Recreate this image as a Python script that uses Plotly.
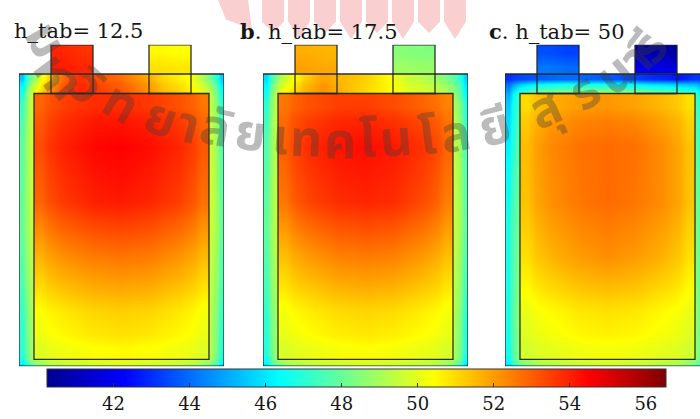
import plotly.graph_objects as go

# ---------------------------------------------------------------------------
# Cell geometry (drawing units; y measured upward from the casing bottom)
# ---------------------------------------------------------------------------
CELL_W, CELL_H = 205, 300          # casing
INNER = (15, 7, 190, 280)          # jelly-roll rectangle x0, y0, x1, y1
TAB_COLS = [(32, 74), (130, 172)]  # positive / negative tab columns
TAB_TOP = 330

PANEL_TITLES = ["h_tab= 12.5", "<b>b</b>. h_tab= 17.5", "<b>c</b>. h_tab= 50"]

# ---------------------------------------------------------------------------
# Temperature samples (deg C)
# ---------------------------------------------------------------------------
BODY_X = [0, 15, 30, 53, 102, 151, 175, 190, 205]
BODY_Y = [0, 7, 20, 150, 260, 280, 300]
INNER_X = [15, 45, 75, 102, 130, 160, 190]
INNER_Y = [7, 55, 110, 170, 226, 280]
TAB_Y = [300, 330]

body_a = [
    [45.8, 48.0, 49.0, 49.4, 49.7, 49.4, 49.0, 48.0, 45.8],
    [46.8, 49.2, 49.7, 50.0, 50.2, 50.0, 49.7, 49.2, 46.8],
    [47.2, 49.4, 50.0, 50.3, 50.5, 50.3, 50.0, 49.4, 47.2],
    [48.0, 49.8, 51.0, 51.0, 51.0, 51.0, 51.0, 49.8, 48.0],
    [47.8, 50.0, 52.0, 52.0, 52.0, 52.0, 52.0, 49.8, 47.6],
    [46.8, 50.3, 52.5, 54.0, 53.2, 51.5, 50.6, 49.5, 46.6],
    [45.5, 48.8, 51.5, 53.8, 52.7, 51.0, 50.2, 48.2, 45.6],
]
inner_a = [
    [49.9, 50.2, 50.4, 50.5, 50.4, 50.2, 49.9],
    [50.4, 50.8, 51.1, 51.2, 51.1, 50.8, 50.3],
    [51.6, 52.2, 52.5, 52.6, 52.5, 52.1, 51.5],
    [52.9, 53.6, 54.0, 54.1, 53.9, 53.5, 52.7],
    [53.3, 54.0, 54.4, 54.5, 54.3, 53.9, 53.1],
    [52.9, 53.5, 53.8, 53.8, 53.6, 53.2, 52.6],
]
tabs_a = [
    [[54.1, 53.9], [53.9, 53.7]],
    [[50.9, 50.8], [50.5, 50.4]],
]

body_b = [
    [45.8, 48.0, 49.0, 49.3, 49.6, 49.3, 49.0, 48.0, 45.8],
    [46.7, 49.1, 49.6, 49.9, 50.1, 49.9, 49.6, 49.1, 46.7],
    [47.1, 49.3, 50.0, 50.2, 50.4, 50.2, 50.0, 49.3, 47.1],
    [47.9, 49.7, 51.0, 51.0, 51.0, 51.0, 51.0, 49.7, 47.9],
    [47.6, 49.8, 51.5, 51.5, 51.5, 51.5, 51.5, 49.6, 47.5],
    [46.6, 49.9, 51.2, 52.3, 51.0, 50.0, 49.6, 48.8, 46.4],
    [45.8, 48.8, 50.5, 51.9, 51.2, 49.6, 48.8, 47.8, 45.7],
]
inner_b = [
    [49.8, 50.1, 50.3, 50.4, 50.3, 50.1, 49.8],
    [50.3, 50.7, 51.0, 51.1, 51.0, 50.7, 50.3],
    [51.4, 52.0, 52.4, 52.5, 52.4, 52.0, 51.4],
    [52.6, 53.4, 53.8, 53.9, 53.8, 53.3, 52.5],
    [53.0, 53.8, 54.2, 54.3, 54.1, 53.7, 52.9],
    [52.6, 53.2, 53.5, 53.5, 53.3, 52.9, 52.4],
]
tabs_b = [
    [[51.9, 51.8], [51.7, 51.6]],
    [[48.9, 48.8], [48.5, 48.4]],
]

body_c = [
    [45.8, 47.8, 48.8, 49.2, 49.5, 49.2, 48.8, 47.8, 45.8],
    [46.5, 48.7, 49.4, 49.8, 50.0, 49.8, 49.4, 48.7, 46.5],
    [46.8, 48.8, 49.8, 50.1, 50.3, 50.1, 49.8, 48.8, 46.8],
    [46.8, 48.4, 50.5, 50.5, 50.5, 50.5, 50.5, 48.4, 46.8],
    [46.0, 47.8, 50.0, 50.0, 50.0, 50.0, 50.0, 47.8, 46.0],
    [45.0, 47.5, 48.6, 49.0, 49.2, 48.6, 48.2, 47.3, 45.0],
    [43.0, 43.4, 43.7, 44.0, 43.8, 43.0, 42.6, 43.2, 43.0],
]
inner_c = [
    [49.7, 50.0, 50.2, 50.3, 50.2, 50.0, 49.7],
    [50.1, 50.5, 50.8, 50.9, 50.8, 50.5, 50.1],
    [50.9, 51.6, 52.0, 52.2, 52.0, 51.6, 50.9],
    [51.4, 52.2, 52.6, 52.8, 52.6, 52.2, 51.4],
    [51.5, 52.3, 52.7, 52.8, 52.7, 52.2, 51.4],
    [51.0, 51.7, 52.0, 52.1, 51.9, 51.5, 50.9],
]
tabs_c = [
    [[44.2, 44.0], [43.5, 43.3]],
    [[41.9, 41.8], [40.7, 40.6]],
]

PANELS = [
    (body_a, inner_a, tabs_a),
    (body_b, inner_b, tabs_b),
    (body_c, inner_c, tabs_c),
]

T_MIN, T_MAX = 40.25, 56.53
TICKS = [42, 44, 46, 48, 50, 52, 54, 56]

# MATLAB-style jet
JET = [
    [0.0, "rgb(0,0,143)"],
    [0.125, "rgb(0,0,255)"],
    [0.375, "rgb(0,255,255)"],
    [0.625, "rgb(255,255,0)"],
    [0.875, "rgb(255,0,0)"],
    [1.0, "rgb(128,0,0)"],
]

# ---------------------------------------------------------------------------
# Page layout (pixels)
# ---------------------------------------------------------------------------
W, H = 700, 419
PANEL_LEFT = [19, 263, 505]
PANEL_TOP, PANEL_BOTTOM = 46, 376
SERIF = "DejaVu Serif, Liberation Serif, serif"
LINE = dict(color="rgba(35,35,35,0.95)", width=1.3)


def edges(p):
    """Brick edges clamped to the sampled extent."""
    mids = [(a + b) / 2 for a, b in zip(p[:-1], p[1:])]
    return [p[0]] + mids + [p[-1]]


fig = go.Figure()
shapes = []
annotations = []

# University logo (faint, behind everything)
for k in range(8):
    x0 = 262 + k * 26
    xm, x1 = x0 + 11, x0 + 22
    tip = 40 if k % 2 else 34
    path = (f"M{x0/W},{1}L{x1/W},{1}L{x1/W},{1-22/H}"
            f"L{xm/W},{1-tip/H}L{x0/W},{1-22/H}Z")
    shapes.append(dict(type="path", xref="paper", yref="paper", path=path,
                       fillcolor="rgba(238,110,110,0.33)", line_width=0,
                       layer="below"))
shapes.append(dict(type="path", xref="paper", yref="paper", layer="below",
                   path=f"M{218/W},1L{248/W},1L{252/W},{1-30/H}L{226/W},{1-20/H}Z",
                   fillcolor="rgba(238,110,110,0.33)", line_width=0))

for i, (body, inner, tabs) in enumerate(PANELS):
    sfx = "" if i == 0 else str(i + 1)
    xa, ya = "x" + sfx, "y" + sfx

    fig.add_trace(go.Heatmap(
        x=edges(BODY_X), y=edges(BODY_Y), z=body,
        coloraxis="coloraxis", zsmooth="best", xaxis=xa, yaxis=ya,
        hoverinfo="skip"))
    fig.add_trace(go.Heatmap(
        x=edges(INNER_X), y=edges(INNER_Y), z=inner,
        coloraxis="coloraxis", zsmooth="best", xaxis=xa, yaxis=ya,
        hoverinfo="skip"))
    for (tx0, tx1), tz in zip(TAB_COLS, tabs):
        fig.add_trace(go.Heatmap(
            x=edges([tx0, tx1]), y=edges(TAB_Y), z=tz,
            coloraxis="coloraxis", zsmooth="best", xaxis=xa, yaxis=ya,
            hoverinfo="skip"))

    # outlines: casing, jelly roll, tabs
    shapes.append(dict(type="rect", xref=xa, yref=ya, x0=0, y0=0,
                       x1=CELL_W, y1=CELL_H, line=LINE))
    shapes.append(dict(type="rect", xref=xa, yref=ya, x0=INNER[0], y0=INNER[1],
                       x1=INNER[2], y1=INNER[3], line=LINE))
    for tx0, tx1 in TAB_COLS:
        shapes.append(dict(type="rect", xref=xa, yref=ya, x0=tx0, y0=INNER[3],
                           x1=tx1, y1=TAB_TOP, line=LINE))

    left = PANEL_LEFT[i]
    right = min(left + CELL_W, W)
    fig.layout["xaxis" + sfx] = dict(
        domain=[left / W, right / W], range=[0, right - left],
        visible=False, fixedrange=True, anchor=ya)
    fig.layout["yaxis" + sfx] = dict(
        domain=[(H - PANEL_BOTTOM) / H, (H - PANEL_TOP) / H],
        range=[0, TAB_TOP], visible=False, fixedrange=True, anchor=xa)

TITLE_X = [12, 238, 487]
for tx, title in zip(TITLE_X, PANEL_TITLES):
    annotations.append(dict(
        text=title, xref="paper", yref="paper", x=tx / W, y=1 - 32 / H,
        xanchor="left", yanchor="middle", showarrow=False,
        font=dict(family=SERIF, size=21, color="#161616")))

# University name watermark along an arc
WATERMARK = [
    ("ม", 44, 42, 60), ("ห", 52, 74, 54), ("า", 66, 88, 48),
    ("วิ", 86, 90, 42), ("ท", 120, 108, 30), ("ย", 160, 123, 20),
    ("า", 188, 130, 15), ("ลั", 216, 134, 11), ("ย", 250, 139, 7),
    ("เ", 280, 143, 4), ("ท", 306, 145, 2), ("ค", 340, 147, 0),
    ("โ", 368, 146, -2), ("น", 396, 145, -4), ("โ", 428, 143, -7),
    ("ล", 456, 140, -10), ("ยี", 496, 132, -15), ("สุ", 546, 114, -24),
    ("ร", 586, 96, -32), ("น", 616, 78, -40), ("า", 638, 62, -46),
    ("รี", 650, 50, -52),
]
for ch, px, py, ang in WATERMARK:
    annotations.append(dict(
        text=f"<b>{ch}</b>", xref="paper", yref="paper", x=px / W,
        y=1 - py / H, xanchor="center", yanchor="middle", showarrow=False,
        textangle=ang,
        font=dict(family="Noto Sans Thai, Noto Sans, sans-serif", size=50,
                  color="rgba(60,60,60,0.35)")))

fig.update_layout(
    width=W, height=H, margin=dict(l=0, r=0, t=0, b=0),
    paper_bgcolor="white", plot_bgcolor="rgba(0,0,0,0)",
    showlegend=False, shapes=shapes, annotations=annotations,
    coloraxis=dict(
        colorscale=JET, cmin=T_MIN, cmax=T_MAX,
        colorbar=dict(
            orientation="h", x=47 / W, xanchor="left",
            y=1 - 379 / H, yanchor="top",
            len=619, lenmode="pixels", thickness=18, thicknessmode="pixels",
            xpad=0, ypad=0, outlinewidth=1, outlinecolor="#333",
            tickvals=TICKS, ticks="inside", ticklen=4, tickcolor="#333",
            tickfont=dict(family=SERIF, size=18, color="#161616"))),
)

fig.write_html("out.html")
